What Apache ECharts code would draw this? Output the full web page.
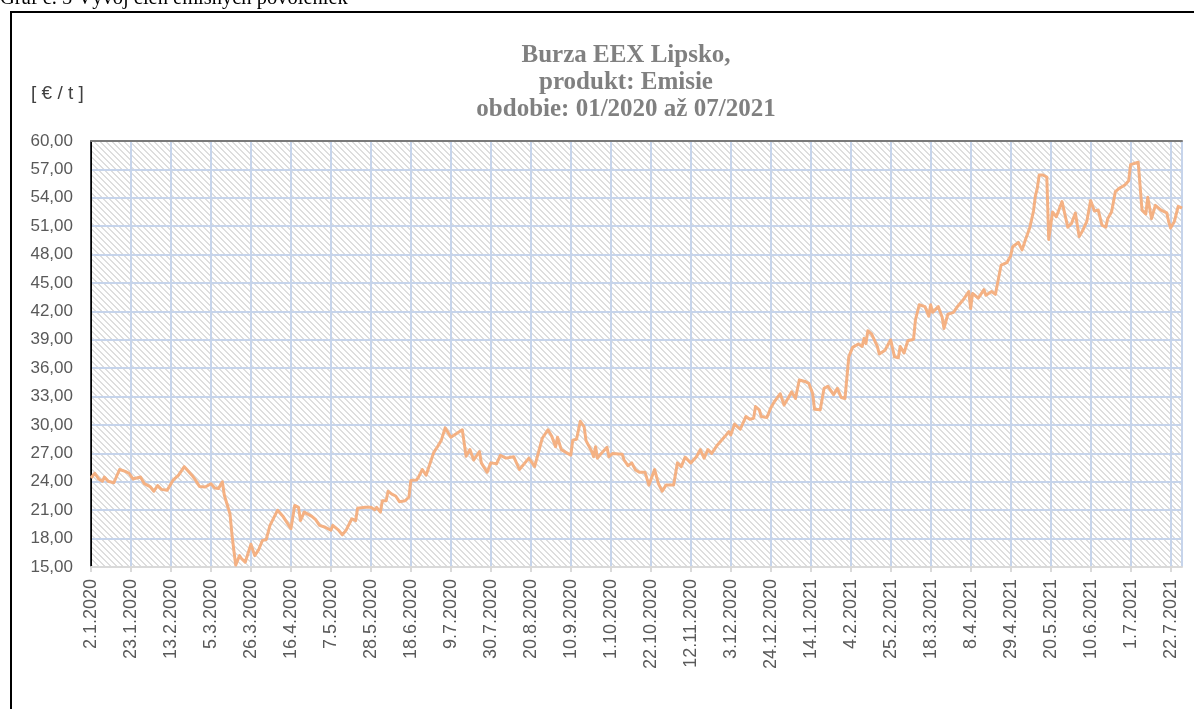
<!DOCTYPE html>
<html>
<head>
<meta charset="utf-8">
<title>Burza EEX Lipsko - Emisie</title>
<script src="https://cdn.jsdelivr.net/npm/echarts@6/dist/echarts.min.js"></script>
<style>
  html, body { margin: 0; padding: 0; background: #fff; }
  #main { width: 1194px; height: 709px; }
</style>
</head>
<body>
<div id="main"></div>
<script>
// obchodné dni (odčítané z grafu) a cena povolenky v €/t
const dates = [
  '2020-01-02','2020-01-04','2020-01-06','2020-01-08','2020-01-09','2020-01-11','2020-01-14','2020-01-17','2020-01-20','2020-01-22',
  '2020-01-24','2020-01-28','2020-01-30','2020-02-02','2020-02-04','2020-02-06','2020-02-08','2020-02-11','2020-02-14','2020-02-17',
  '2020-02-20','2020-02-21','2020-02-24','2020-02-26','2020-02-28','2020-03-02','2020-03-05','2020-03-07','2020-03-09','2020-03-11',
  '2020-03-12','2020-03-15','2020-03-16','2020-03-17','2020-03-18','2020-03-20','2020-03-21','2020-03-23','2020-03-26','2020-03-28',
  '2020-03-30','2020-04-01','2020-04-03','2020-04-05','2020-04-09','2020-04-12','2020-04-16','2020-04-18','2020-04-20','2020-04-21',
  '2020-04-23','2020-04-27','2020-04-29','2020-05-01','2020-05-04','2020-05-07','2020-05-08','2020-05-11','2020-05-13','2020-05-15',
  '2020-05-18','2020-05-20','2020-05-21','2020-05-25','2020-05-28','2020-05-30','2020-05-31','2020-06-02','2020-06-03','2020-06-05',
  '2020-06-06','2020-06-08','2020-06-10','2020-06-12','2020-06-15','2020-06-17','2020-06-18','2020-06-21','2020-06-22','2020-06-24',
  '2020-06-26','2020-06-30','2020-07-02','2020-07-04','2020-07-06','2020-07-09','2020-07-12','2020-07-15','2020-07-17','2020-07-19',
  '2020-07-21','2020-07-24','2020-07-25','2020-07-28','2020-07-30','2020-07-31','2020-08-02','2020-08-04','2020-08-07','2020-08-11',
  '2020-08-14','2020-08-19','2020-08-22','2020-08-26','2020-08-27','2020-08-29','2020-08-31','2020-09-02','2020-09-03','2020-09-05',
  '2020-09-10','2020-09-11','2020-09-13','2020-09-15','2020-09-17','2020-09-18','2020-09-21','2020-09-22','2020-09-23','2020-09-24',
  '2020-09-26','2020-09-29','2020-09-30','2020-10-02','2020-10-07','2020-10-08','2020-10-10','2020-10-12','2020-10-14','2020-10-16',
  '2020-10-19','2020-10-21','2020-10-24','2020-10-26','2020-10-28','2020-10-30','2020-11-03','2020-11-05','2020-11-07','2020-11-09',
  '2020-11-12','2020-11-15','2020-11-17','2020-11-19','2020-11-21','2020-11-23','2020-11-26','2020-11-30','2020-12-02','2020-12-03',
  '2020-12-05','2020-12-08','2020-12-09','2020-12-11','2020-12-13','2020-12-15','2020-12-16','2020-12-18','2020-12-19','2020-12-22',
  '2020-12-24','2020-12-26','2020-12-29','2020-12-31','2021-01-02','2021-01-04','2021-01-06','2021-01-08','2021-01-11','2021-01-13',
  '2021-01-15','2021-01-16','2021-01-19','2021-01-21','2021-01-23','2021-01-26','2021-01-28','2021-01-30','2021-02-01','2021-02-03',
  '2021-02-05','2021-02-08','2021-02-10','2021-02-11','2021-02-12','2021-02-13','2021-02-15','2021-02-18','2021-02-19','2021-02-22',
  '2021-02-25','2021-02-27','2021-03-01','2021-03-02','2021-03-04','2021-03-06','2021-03-09','2021-03-10','2021-03-12','2021-03-15',
  '2021-03-17','2021-03-18','2021-03-19','2021-03-22','2021-03-24','2021-03-25','2021-03-27','2021-03-30','2021-04-01','2021-04-04',
  '2021-04-07','2021-04-08','2021-04-09','2021-04-12','2021-04-15','2021-04-16','2021-04-19','2021-04-21','2021-04-24','2021-04-27',
  '2021-04-29','2021-04-30','2021-05-03','2021-05-05','2021-05-07','2021-05-09','2021-05-11','2021-05-12','2021-05-13','2021-05-14',
  '2021-05-16','2021-05-18','2021-05-19','2021-05-21','2021-05-23','2021-05-26','2021-05-29','2021-05-31','2021-06-02','2021-06-04',
  '2021-06-06','2021-06-08','2021-06-10','2021-06-12','2021-06-14','2021-06-16','2021-06-18','2021-06-19','2021-06-21','2021-06-23',
  '2021-06-25','2021-06-28','2021-06-30','2021-07-01','2021-07-02','2021-07-05','2021-07-07','2021-07-09','2021-07-10','2021-07-12',
  '2021-07-14','2021-07-17','2021-07-20','2021-07-21','2021-07-22','2021-07-24','2021-07-26','2021-07-28'
];
const prices = [
  24.4, 24.9, 24.3, 24.05, 24.5, 24.05, 23.9, 25.3, 25.1, 24.9,
  24.3, 24.5, 23.8, 23.5, 23.0, 23.6, 23.2, 23.1, 24.15, 24.7,
  25.6, 25.5, 24.7, 24.15, 23.5, 23.45, 23.8, 23.35, 23.3, 24.0,
  22.6, 20.6, 18.5, 16.8, 15.2, 16.2, 15.9, 15.5, 17.4, 16.2,
  16.8, 17.8, 17.9, 19.4, 21.0, 20.3, 19.05, 21.5, 21.3, 19.9,
  20.8, 20.35, 20.0, 19.4, 19.2, 18.9, 19.4, 18.9, 18.4, 18.9,
  20.1, 19.9, 21.2, 21.3, 21.3, 21.05, 21.3, 20.8, 22.0, 22.0,
  23.0, 22.7, 22.5, 21.9, 22.0, 22.4, 24.15, 24.2, 24.5, 25.3,
  24.7, 27.1, 27.7, 28.4, 29.7, 28.7, 29.1, 29.5, 26.7, 27.4,
  26.3, 27.2, 26.0, 25.0, 26.0, 26.2, 25.9, 26.8, 26.5, 26.65,
  25.3, 26.5, 25.6, 28.6, 28.5, 29.5, 28.8, 27.7, 28.7, 27.4,
  26.8, 28.4, 28.5, 30.4, 29.8, 28.35, 27.2, 26.65, 27.7, 26.5,
  27.0, 27.65, 26.65, 27.0, 26.9, 26.3, 25.7, 26.0, 25.25, 25.0,
  25.0, 23.65, 25.3, 23.8, 23.0, 23.65, 23.65, 26.0, 25.6, 26.6,
  26.0, 26.65, 27.4, 26.5, 27.4, 27.0, 27.9, 28.8, 29.3, 28.95,
  30.1, 29.55, 29.65, 30.9, 30.6, 30.7, 31.95, 31.6, 30.9, 30.8,
  31.8, 32.5, 33.3, 32.1, 32.8, 33.5, 32.8, 34.75, 34.6, 34.4,
  33.35, 31.66, 31.6, 33.87, 34.1, 33.2, 33.87, 32.9, 32.8, 37.2,
  38.2, 38.55, 38.3, 39.15, 38.6, 39.96, 39.6, 38.3, 37.5, 37.9,
  39.0, 37.2, 37.1, 38.3, 37.6, 38.9, 39.05, 41.1, 42.7, 42.5,
  41.5, 42.7, 41.9, 42.5, 41.4, 40.2, 41.7, 41.9, 42.5, 43.2,
  44.1, 42.3, 43.9, 43.4, 44.3, 43.7, 44.1, 43.8, 46.9, 47.15,
  47.85, 48.8, 49.3, 48.5, 49.7, 50.8, 52.6, 54.2, 55.0, 56.4,
  56.4, 56.2, 49.6, 52.5, 52.0, 53.6, 50.9, 51.3, 52.4, 49.9,
  50.6, 51.5, 53.7, 52.6, 52.7, 51.1, 50.9, 51.8, 52.5, 54.65,
  55.0, 55.35, 55.8, 57.5, 57.36, 57.75, 52.7, 52.3, 54.05, 51.8,
  53.2, 52.7, 52.4, 51.5, 50.8, 51.5, 53.1, 52.9
];
const startDate = '2020-01-02';   // prvý popis osi x
const endDate = '2021-07-28';     // koniec osi x
const tickDays = 21;              // krok popisov osi x (dni)
const yMin = 15, yMax = 60, yStep = 3;
const titleLines = ['Burza EEX Lipsko,', 'produkt: Emisie', 'obdobie: 01/2020 až 07/2021'];
const unitLabel = '[ € / t ]';
const caption = 'Graf č. 5 Vývoj cien emisných povoleniek';

const DAY = 86400000;
function utc(s) {
  const p = s.split('-');
  return Date.UTC(+p[0], +p[1] - 1, +p[2]);
}
const t0 = utc(startDate);
function dayIndex(s) { return Math.round((utc(s) - t0) / DAY); }
function dayLabel(v) {
  const d = new Date(t0 + Math.round(v) * DAY);
  return d.getUTCDate() + '.' + (d.getUTCMonth() + 1) + '.' + d.getUTCFullYear();
}

// šrafované pozadie plochy grafu
function hatch() {
  const n = 6;
  const c = document.createElement('canvas');
  c.width = n; c.height = n;
  const ctx = c.getContext('2d');
  ctx.fillStyle = '#ffffff';
  ctx.fillRect(0, 0, n, n);
  ctx.fillStyle = '#dedede';
  for (let y = 0; y < n; y++) {
    for (let x = 0; x < n; x++) {
      if (((x - y) % n + n) % n < 2) ctx.fillRect(x, y, 1, 1);
    }
  }
  return c;
}

const seriesData = dates.map((d, i) => [dayIndex(d), prices[i]]);
const xMax = dayIndex(endDate);
const labelFont = '"Liberation Sans"';
const gridColor = '#c6d4eb';

let myChart = echarts.init(document.getElementById('main'), null, { renderer: 'canvas' });
myChart.setOption({
  animation: false,
  backgroundColor: '#ffffff',
  title: {
    text: titleLines.join('\n'),
    left: 621,
    top: 37,
    textAlign: 'center',
    textStyle: {
      fontFamily: 'Liberation Serif',
      fontWeight: 'bold',
      fontSize: 25,
      lineHeight: 27,
      color: '#808080'
    }
  },
  graphic: [
    {
      type: 'rect',
      silent: true,
      shape: { x: 11, y: 12, width: 1300, height: 800 },
      style: { fill: 'none', stroke: '#000', lineWidth: 2 }
    },
    {
      type: 'text',
      silent: true,
      style: { x: 0, y: 9, text: caption, font: '20.5px "Liberation Serif"', fill: '#000', verticalAlign: 'bottom' }
    },
    {
      type: 'text',
      silent: true,
      style: { x: 31, y: 94, text: unitLabel, font: '19px ' + labelFont, fill: '#404040', verticalAlign: 'middle' }
    }
  ],
  grid: {
    left: 91,
    right: 12,
    top: 141,
    bottom: 142,
    show: true,
    borderWidth: 0,
    backgroundColor: { image: hatch(), repeat: 'repeat' }
  },
  xAxis: [
    {
      type: 'value',
      min: 0,
      max: xMax,
      interval: tickDays,
      axisLine: { lineStyle: { color: '#d9d9d9', width: 2 } },
      axisTick: { show: true, length: 5, lineStyle: { color: '#d9d9d9', width: 2 } },
      axisLabel: {
        rotate: 90,
        margin: 12,
        color: '#595959',
        fontFamily: labelFont,
        fontSize: 18,
        showMaxLabel: false,
        formatter: dayLabel
      },
      splitLine: { show: true, lineStyle: { color: gridColor, width: 2 } }
    },
    {
      type: 'value',
      position: 'top',
      min: 0,
      max: xMax,
      axisLine: { show: true, lineStyle: { color: '#7a7a7a', width: 2 } },
      axisTick: { show: false },
      axisLabel: { show: false },
      splitLine: { show: false }
    }
  ],
  yAxis: [
    {
      type: 'value',
      min: yMin,
      max: yMax,
      interval: yStep,
      axisLine: { show: true, lineStyle: { color: '#000', width: 1 } },
      axisTick: { show: false },
      axisLabel: {
        margin: 18,
        color: '#595959',
        fontFamily: labelFont,
        fontSize: 17,
        formatter: v => v.toFixed(2).replace('.', ',')
      },
      splitLine: { show: true, lineStyle: { color: gridColor, width: 2 } }
    },
    {
      type: 'value',
      position: 'right',
      min: yMin,
      max: yMax,
      axisLine: { show: true, lineStyle: { color: '#000', width: 1.5 } },
      axisTick: { show: false },
      axisLabel: { show: false },
      splitLine: { show: false }
    }
  ],
  series: [{
    name: 'Emisie',
    type: 'line',
    data: seriesData,
    showSymbol: false,
    symbol: 'none',
    lineStyle: { color: '#f4b183', width: 3, join: 'round' },
    z: 5
  }]
});
</script>
</body>
</html>
